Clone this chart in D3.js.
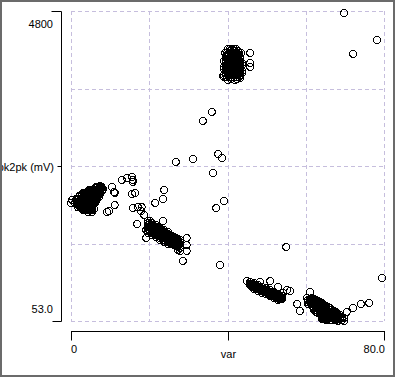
<!DOCTYPE html>
<html>
<head>
<meta charset="utf-8">
<script src="https://cdn.jsdelivr.net/npm/d3@7"></script>
<style>
  body { margin: 0; background: #fff; }
  text { font-family: "Liberation Sans", Arial, sans-serif; font-size: 11px; fill: #000; }
</style>
</head>
<body>
<script>
const width = 395, height = 377;

// axis ranges and labels
const xDomain = [0, 80];
const yDomain = [53, 4800];
const xTickLabels = ["0", "80.0"];
const yTickLabels = ["53.0", "4800"];
const xTitle = "var", yTitle = "pk2pk (mV)";

// points [var, pk2pk], grouped roughly by cluster
const clusterA = [
  [6.6,2112],[7.7,2112],
  [6.1,2090],[6.6,2090],[7.2,2090],[7.6,2090],[8.0,2090],
  [4.9,2067],[5.4,2067],[5.9,2067],[6.4,2067],[6.9,2067],[7.4,2067],
  [4.3,2043],[4.8,2043],[5.4,2043],[5.9,2043],[6.4,2043],[6.9,2043],[7.4,2043],[7.9,2043],
  [3.3,2021],[3.8,2021],[4.3,2021],[4.8,2021],[5.4,2021],[5.9,2021],[6.4,2021],[6.9,2021],[7.4,2021],
  [2.8,1998],[3.3,1998],[3.8,1998],[4.3,1998],[4.9,1998],[5.4,1998],[5.9,1998],[6.4,1998],[6.9,1998],[7.4,1998],
  [2.3,1975],[2.8,1975],[3.3,1975],[3.8,1975],[4.3,1975],[4.8,1975],[5.4,1975],[5.9,1975],[6.4,1975],[6.9,1975],
  [2.0,1952],[2.5,1952],[3.1,1952],[3.6,1952],[4.1,1952],[4.6,1952],[5.1,1952],[5.6,1952],[6.1,1952],[6.6,1952],[7.2,1952],
  [1.5,1929],[2.0,1929],[2.6,1929],[3.1,1929],[3.6,1929],[4.1,1929],[4.6,1929],[5.1,1929],[5.6,1929],[6.1,1929],[6.6,1929],
  [0.3,1906],[1.3,1906],[1.8,1906],[2.3,1906],[2.8,1906],[3.3,1906],[3.8,1906],[4.3,1906],[4.8,1906],[5.4,1906],[5.9,1906],[6.4,1906],
  [1.8,1883],[2.3,1883],[2.8,1883],[3.3,1883],[3.8,1883],[4.3,1883],[4.9,1883],[5.4,1883],[5.9,1883],[6.4,1883],
  [0.0,1860],[1.0,1860],[1.5,1860],[2.0,1860],[2.5,1860],[3.1,1860],[3.6,1860],[4.1,1860],[4.6,1860],[5.1,1860],[5.6,1860],[6.1,1860],
  [1.5,1837],[2.0,1837],[2.6,1837],[3.1,1837],[3.6,1837],[4.1,1837],[4.6,1837],[5.1,1837],[5.6,1837],
  [2.3,1814],[2.8,1814],[3.3,1814],[3.8,1814],[4.3,1814],[4.8,1814],[5.4,1814],
  [1.8,1791],[2.3,1791],[3.3,1791],[3.8,1791],[4.3,1791],[4.9,1791],[5.4,1791],
  [2.8,1768],[3.3,1768],[3.8,1768],[4.3,1768],[4.9,1768],[5.4,1768],[5.9,1768],
  [3.3,1745],[3.8,1745],[4.3,1745],[4.8,1745],[5.4,1745],
  [4.3,1722],[5.4,1722],
  [7.4,2120],[8.2,2074]
];
const clusterB = [
  [19.7,1584],[19.7,1554],[19.7,1523],[19.7,1492],[19.7,1462],[19.7,1431],[19.7,1400],
  [20.2,1538],[20.2,1508],[20.2,1477],[20.2,1446],[20.2,1416],
  [20.7,1554],[20.7,1523],[20.7,1492],[20.7,1462],[20.7,1431],[20.7,1400],[20.7,1370],
  [21.2,1508],[21.2,1477],[21.2,1446],[21.2,1416],[21.2,1385],
  [21.7,1523],[21.7,1492],[21.7,1462],[21.7,1431],[21.7,1400],[21.7,1370],[21.7,1339],
  [22.2,1477],[22.2,1446],[22.2,1416],[22.2,1385],[22.2,1355],
  [22.7,1477],[22.7,1446],[22.7,1416],[22.7,1385],[22.7,1355],[22.7,1324],[22.7,1293],
  [23.3,1446],[23.3,1416],[23.3,1385],[23.3,1355],[23.3,1324],
  [23.8,1446],[23.8,1416],[23.8,1385],[23.8,1355],[23.8,1324],[23.8,1293],[23.8,1263],
  [24.3,1400],[24.3,1370],[24.3,1339],[24.3,1309],[24.3,1278],
  [24.8,1416],[24.8,1385],[24.8,1355],[24.8,1324],[24.8,1293],[24.8,1263],[24.8,1232],
  [25.3,1370],[25.3,1339],[25.3,1309],[25.3,1278],[25.3,1247],
  [25.8,1355],[25.8,1324],[25.8,1293],[25.8,1263],[25.8,1232],
  [26.3,1339],[26.3,1309],[26.3,1278],[26.3,1247],[26.3,1217],
  [26.8,1324],[26.8,1293],[26.8,1263],[26.8,1232],[26.8,1201],
  [27.3,1309],[27.3,1278],[27.3,1247],[27.3,1217],[27.3,1186],
  [27.9,1293],[27.9,1263],[27.9,1232],[27.9,1201],[27.9,1171],
  [19.2,1446],[27.3,1140]
];
const clusterC = [
  [40.1,4218],[40.6,4218],[41.2,4218],[41.7,4218],[42.2,4218],
  [40.6,4187],[41.7,4187],[42.7,4187],
  [39.4,4157],[39.9,4157],[40.4,4157],[40.9,4157],[41.4,4157],[41.9,4157],[42.4,4157],[42.9,4157],[43.5,4157],
  [39.9,4126],[40.4,4126],[40.9,4126],[41.4,4126],[42.0,4126],[42.5,4126],[43.0,4126],
  [39.6,4096],[40.1,4096],[40.6,4096],[41.2,4096],[41.7,4096],[42.2,4096],[42.7,4096],[43.2,4096],
  [40.1,4065],[40.6,4065],[41.2,4065],[41.7,4065],[42.2,4065],[42.7,4065],[43.2,4065],
  [39.1,4034],[39.6,4034],[40.1,4034],[40.6,4034],[41.2,4034],[41.7,4034],[42.2,4034],[42.7,4034],[43.2,4034],
  [39.6,4004],[40.1,4004],[40.6,4004],[41.2,4004],[41.7,4004],[42.2,4004],[42.7,4004],[43.2,4004],[43.7,4004],
  [39.6,3973],[40.1,3973],[40.6,3973],[41.2,3973],[41.7,3973],[42.2,3973],[42.7,3973],[43.2,3973],[43.7,3973],
  [39.1,3943],[39.6,3943],[40.1,3943],[40.6,3943],[41.2,3943],[41.7,3943],[42.2,3943],[42.7,3943],[43.2,3943],
  [39.1,3912],[39.6,3912],[40.1,3912],[40.6,3912],[41.2,3912],[41.7,3912],[42.2,3912],[42.7,3912],[43.2,3912],
  [39.6,3881],[40.1,3881],[40.6,3881],[41.2,3881],[41.7,3881],[42.2,3881],[42.7,3881],[43.2,3881],[43.7,3881],
  [39.6,3851],[40.1,3851],[40.6,3851],[41.2,3851],[41.7,3851],[42.2,3851],[42.7,3851],[43.2,3851],[43.7,3851],
  [39.1,3820],[39.6,3820],[40.1,3820],[40.6,3820],[41.2,3820],[41.7,3820],[42.2,3820],[42.7,3820],[43.2,3820],
  [39.1,3789],[39.8,3789],[40.4,3789],[41.1,3789],[41.7,3789],[42.3,3789],[42.9,3789],
  [40.9,3758],[42.4,3758],
  [45.8,4157],[45.8,4004],[45.8,3943],[38.8,3805],[40.1,3743],[41.9,3743],[43.2,3774]
];
const clusterD = [
  [45.8,650],[45.8,627],[45.8,604],
  [46.3,627],[46.3,604],[46.3,581],
  [46.8,635],[46.8,612],[46.8,589],[46.8,566],[46.8,543],
  [47.3,597],[47.3,574],[47.3,551],
  [47.8,604],[47.8,581],[47.8,558],[47.8,535],[47.8,512],
  [48.3,574],[48.3,551],[48.3,528],
  [48.8,574],[48.8,551],[48.8,528],[48.8,505],[48.8,482],
  [49.3,543],[49.3,520],[49.3,497],
  [49.8,558],[49.8,535],[49.8,512],[49.8,489],[49.8,466],
  [50.4,512],[50.4,489],[50.4,466],
  [50.9,528],[50.9,505],[50.9,482],[50.9,459],[50.9,436],
  [51.4,489],[51.4,466],[51.4,443],
  [51.9,497],[51.9,474],[51.9,451],[51.9,428],[51.9,405],
  [52.4,459],[52.4,436],[52.4,413],
  [52.9,466],[52.9,443],[52.9,420],[52.9,398],[52.9,375],
  [53.4,428],[53.4,405],[53.4,382],
  [53.9,436],[53.9,413],[53.9,390],
  [45.0,665],[48.3,650],[50.9,665],[52.9,574],[55.2,528],[56.0,512],[54.2,482]
];
const clusterE = [
  [60.6,375],[60.6,344],[60.6,313],
  [61.1,390],[61.1,367],[61.1,344],
  [61.6,405],[61.6,375],[61.6,344],[61.6,313],[61.6,283],
  [62.1,390],[62.1,359],[62.1,329],[62.1,298],[62.1,267],[62.1,244],[62.1,221],
  [62.6,375],[62.6,344],[62.6,313],[62.6,283],[62.6,252],[62.6,221],[62.6,191],
  [63.1,359],[63.1,329],[63.1,298],[63.1,267],[63.1,237],[63.1,206],[63.1,175],
  [63.6,344],[63.6,313],[63.6,283],[63.6,252],[63.6,221],[63.6,191],[63.6,160],
  [64.2,329],[64.2,298],[64.2,267],[64.2,237],[64.2,206],[64.2,175],[64.2,145],[64.2,114],[64.2,84],
  [64.7,298],[64.7,267],[64.7,237],[64.7,206],[64.7,175],[64.7,145],[64.7,114],[64.7,84],
  [65.2,283],[65.2,252],[65.2,221],[65.2,191],[65.2,160],[65.2,130],[65.2,99],[65.2,68],
  [65.7,267],[65.7,237],[65.7,206],[65.7,175],[65.7,145],[65.7,114],[65.7,84],
  [66.2,252],[66.2,221],[66.2,191],[66.2,160],[66.2,130],[66.2,99],[66.2,68],
  [66.7,221],[66.7,191],[66.7,160],[66.7,130],[66.7,99],[66.7,68],
  [67.2,206],[67.2,175],[67.2,145],[67.2,114],[67.2,84],
  [67.7,191],[67.7,160],[67.7,130],[67.7,99],[67.7,68],
  [68.2,160],[68.2,130],[68.2,99],[68.2,76],[68.2,53],
  [68.8,145],[68.8,114],[68.8,84],
  [69.3,114],[69.3,91],[69.3,68],
  [69.8,99],[69.8,53],
  [61.1,497],[57.8,313],[58.5,206],[60.3,405],
  [70.5,191],[72.1,252],[74.1,313],[76.2,329]
];
const scattered = [
  [9.2,1722],[9.7,1737],[10.5,2105],[11.0,2028],[11.2,2013],[11.2,1829],
  [13.0,2212],[14.3,2243],[15.6,2258],[15.8,2212],[15.8,2181],
  [15.6,1998],[16.4,2013],[15.8,1783],[17.1,1799],[17.9,1737],[18.1,1799],
  [16.9,1538],[18.7,1676],[20.2,1584],[21.5,1860],[23.5,1921],[23.8,2059],
  [23.5,1584],[19.2,1324],[26.8,2488],[31.2,2534],[37.6,2610],[38.6,2549],
  [36.3,2319],[39.1,1890],[37.1,1783],[33.7,3116],[36.0,3254],[38.1,910],
  [55.0,1186],[28.6,972],[29.6,1324],[29.6,1217],[29.6,1125],[27.9,1125],
  [69.8,4769],[78.2,4356],[72.1,4142],[79.5,711]
];
const points = [].concat(clusterA, clusterB, clusterC, clusterD, clusterE, scattered);

const plot = { left: 71, right: 384, top: 11, bottom: 321 };

const x = d3.scaleLinear().domain(xDomain).range([plot.left, plot.right]);
const y = d3.scaleLinear().domain(yDomain).range([plot.bottom, plot.top]);

const svg = d3.select("body").append("svg")
  .attr("width", width)
  .attr("height", height);

// dashed grid, 4 divisions each way
const gridColor = "#c6bedd";
const xGrid = d3.range(5).map(i => xDomain[0] + i * (xDomain[1] - xDomain[0]) / 4);
const yGrid = d3.range(5).map(i => yDomain[0] + i * (yDomain[1] - yDomain[0]) / 4);

svg.append("g").selectAll("line")
  .data(xGrid)
  .enter().append("line")
  .attr("x1", d => Math.round(x(d)) + 0.5).attr("x2", d => Math.round(x(d)) + 0.5)
  .attr("y1", plot.top).attr("y2", plot.bottom)
  .attr("stroke", gridColor)
  .attr("stroke-dasharray", "4,3");

svg.append("g").selectAll("line")
  .data(yGrid)
  .enter().append("line")
  .attr("y1", d => Math.round(y(d)) + 0.5).attr("y2", d => Math.round(y(d)) + 0.5)
  .attr("x1", plot.left).attr("x2", plot.right)
  .attr("stroke", gridColor)
  .attr("stroke-dasharray", "4,3");

// points
svg.append("g").selectAll("circle")
  .data(points)
  .enter().append("circle")
  .attr("cx", d => x(d[0]))
  .attr("cy", d => y(d[1]))
  .attr("r", 3.4)
  .attr("fill", "none")
  .attr("stroke", "#000")
  .attr("stroke-width", 1)
  .attr("shape-rendering", "crispEdges");

// y axis
const yAxisX = plot.left - 9.5;
const yAx = svg.append("g").attr("stroke", "#000").attr("stroke-width", 1);
yAx.append("line").attr("x1", yAxisX).attr("x2", yAxisX)
  .attr("y1", y(yDomain[1]) + 0.5).attr("y2", y(yDomain[0]) + 0.5);
yAx.append("line").attr("x1", yAxisX - 10).attr("x2", yAxisX)
  .attr("y1", y(yDomain[1]) + 0.5).attr("y2", y(yDomain[1]) + 0.5);
yAx.append("line").attr("x1", yAxisX - 9).attr("x2", yAxisX)
  .attr("y1", y(yDomain[0]) + 0.5).attr("y2", y(yDomain[0]) + 0.5);
const yMid = Math.round(y((yDomain[0] + yDomain[1]) / 2)) + 0.5;
yAx.append("line").attr("x1", yAxisX - 4).attr("x2", yAxisX)
  .attr("y1", yMid).attr("y2", yMid);

svg.append("text").attr("x", 53).attr("y", y(yDomain[1]) + 17)
  .attr("text-anchor", "end").text(yTickLabels[1]);
svg.append("text").attr("x", 53).attr("y", y(yDomain[0]) - 8)
  .attr("text-anchor", "end").text(yTickLabels[0]);
svg.append("text").attr("x", 54).attr("y", yMid + 4)
  .attr("text-anchor", "end").text(yTitle);

// x axis
const xAxisY = plot.bottom + 10.5;
const xAx = svg.append("g").attr("stroke", "#000").attr("stroke-width", 1);
xAx.append("line").attr("x1", x(xDomain[0])).attr("x2", x(xDomain[1]) + 1)
  .attr("y1", xAxisY).attr("y2", xAxisY);
[xDomain[0], (xDomain[0] + xDomain[1]) / 2, xDomain[1]].forEach(v => {
  const px = Math.round(x(v)) + 0.5;
  xAx.append("line").attr("x1", px).attr("x2", px)
    .attr("y1", xAxisY).attr("y2", xAxisY + 9);
});

svg.append("text").attr("x", x(xDomain[0])).attr("y", xAxisY + 21)
  .attr("text-anchor", "start").text(xTickLabels[0]);
svg.append("text").attr("x", x(xDomain[1]) + 1).attr("y", xAxisY + 21)
  .attr("text-anchor", "end").text(xTickLabels[1]);
svg.append("text").attr("x", x((xDomain[0] + xDomain[1]) / 2) + 1).attr("y", xAxisY + 26)
  .attr("text-anchor", "middle").text(xTitle);

// outer frame
svg.append("rect")
  .attr("x", 1).attr("y", 1)
  .attr("width", 393).attr("height", 375)
  .attr("fill", "none")
  .attr("stroke", "#6b6b6b")
  .attr("stroke-width", 2);
</script>
</body>
</html>
